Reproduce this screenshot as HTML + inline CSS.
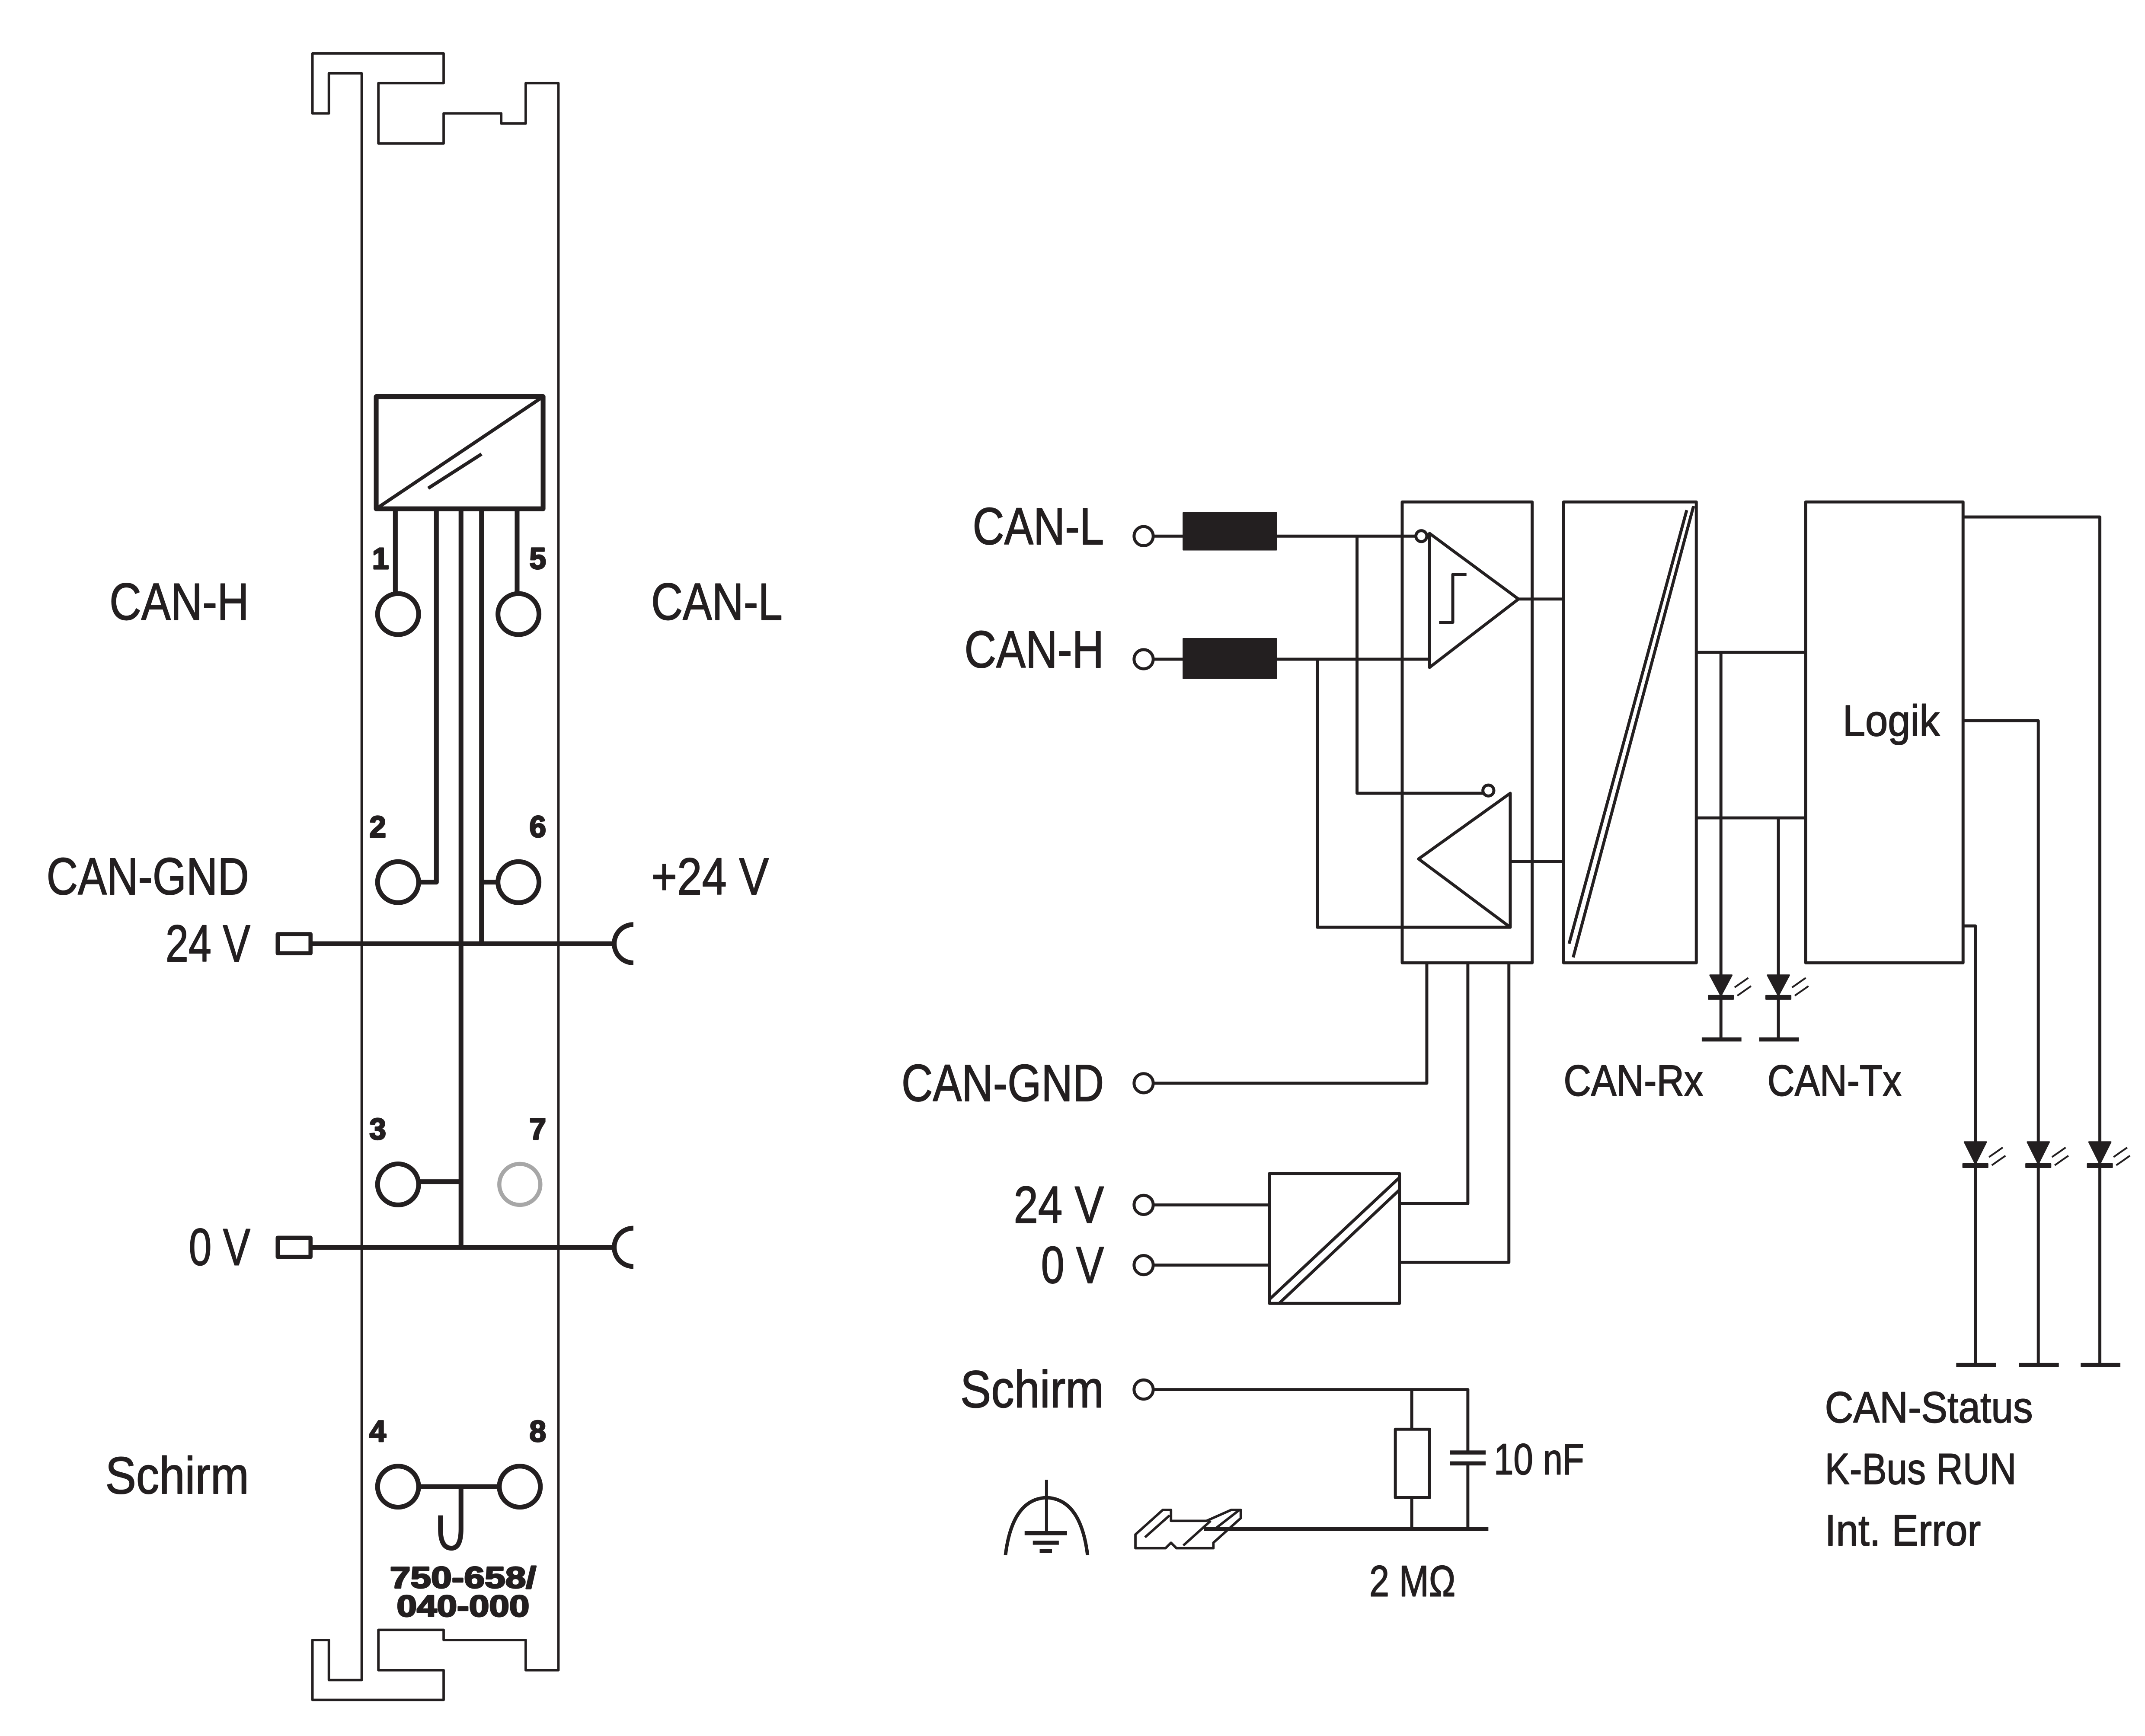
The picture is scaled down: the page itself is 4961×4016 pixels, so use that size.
<!DOCTYPE html>
<html><head><meta charset="utf-8"><style>
html,body{margin:0;padding:0;background:#fff;}
svg{display:block;}
text{font-family:"Liberation Sans Narrow","Liberation Sans",sans-serif;fill:#231f20;}
.m{stroke:#231f20;stroke-width:0.6;}
</style></head><body>
<svg width="4961" height="4016" viewBox="0 0 1568 1269.3" xmlns="http://www.w3.org/2000/svg">
<g fill="none" stroke="#231f20" stroke-linejoin="round">
<path stroke-width="1.8" d="M264.4,1228.4 V53.6 H240.4 V82.9 H228.4 V39.1 H324.3 V60.8 H276.6 V104.9 H324.3 V82.9 H366.4 V90.3 H384.3 V60.8 H408.2 V1221.2 H384.3 V1199.1 H324.3 V1191.7 H276.6 V1221.2 H324.3 V1242.9 H228.4 V1199.1 H240.4 V1228.4 Z"/>
<rect x="275" y="290" width="122" height="82" stroke-width="3.5"/>
<line x1="275" y1="372" x2="397" y2="290" stroke-width="2.5"/>
<line x1="313" y1="357" x2="352" y2="332" stroke-width="2.5"/>
<g stroke-width="3.5">
<line x1="289" y1="372" x2="289" y2="434"/>
<line x1="378" y1="372" x2="378" y2="434"/>
<polyline points="319,372 319,645 306,645"/>
<polyline points="337,372 337,912"/>
<polyline points="352,372 352,690"/>
<line x1="352" y1="645" x2="364" y2="645"/>
<line x1="306" y1="864" x2="337" y2="864"/>
<circle cx="291" cy="449" r="15"/>
<circle cx="379" cy="449" r="15"/>
<circle cx="291" cy="645" r="15"/>
<circle cx="379" cy="645" r="15"/>
<circle cx="291" cy="866" r="15"/>
<circle cx="291" cy="1087" r="15"/>
<circle cx="380" cy="1087" r="15"/>
<line x1="306" y1="1087" x2="365" y2="1087"/>
<path d="M337,1087 V1118 Q337,1132 330,1132 Q322,1132 322,1118 V1108"/>
<line x1="227" y1="690" x2="448" y2="690"/>
<line x1="227" y1="912" x2="448" y2="912"/>
<rect x="203" y="683" width="24" height="14" stroke-width="3"/>
<rect x="203" y="905" width="24" height="14" stroke-width="3"/>
<path d="M463,676 A14,14 0 0 0 463,704"/>
<path d="M463,898 A14,14 0 0 0 463,926"/>
</g>
<circle cx="380" cy="866" r="15" stroke="#a7a7a7" stroke-width="3"/>

<g stroke-width="2.2">
<rect x="1025" y="367" width="95" height="337"/>
<rect x="1143" y="367" width="97" height="337"/>
<rect x="1320" y="367" width="115" height="337"/>
<line x1="1150" y1="700" x2="1238" y2="370"/>
<line x1="1147" y1="690" x2="1233" y2="373"/>
<polygon points="1045,390 1045,488 1110,438"/>
<polyline points="1052,455 1062,455 1062,420 1072,420"/>
<polygon points="1104,580 1104,678 1037,628"/>
<circle cx="1039" cy="392" r="4"/>
<circle cx="1088" cy="578" r="4"/>
<line x1="844" y1="392" x2="865" y2="392"/>
<line x1="933" y1="392" x2="1035" y2="392"/>
<line x1="844" y1="482" x2="865" y2="482"/>
<line x1="933" y1="482" x2="1045" y2="482"/>
<polyline points="992,392 992,580 1084,580"/>
<polyline points="963,482 963,678 1104,678"/>
<line x1="1110" y1="438" x2="1143" y2="438"/>
<line x1="1104" y1="630" x2="1143" y2="630"/>
<line x1="1240" y1="477" x2="1320" y2="477"/>
<line x1="1240" y1="598" x2="1320" y2="598"/>
<line x1="1258" y1="477" x2="1258" y2="760"/>
<line x1="1300" y1="598" x2="1300" y2="760"/>
<line x1="1244" y1="760" x2="1273" y2="760" stroke-width="3"/>
<line x1="1286" y1="760" x2="1315" y2="760" stroke-width="3"/>
<polyline points="1435,378 1535,378 1535,998"/>
<polyline points="1435,527 1490,527 1490,998"/>
<polyline points="1435,677 1444,677 1444,998"/>
<line x1="1430" y1="998" x2="1459" y2="998" stroke-width="3"/>
<line x1="1476" y1="998" x2="1505" y2="998" stroke-width="3"/>
<line x1="1521" y1="998" x2="1550" y2="998" stroke-width="3"/>
<polyline points="844,792 1043,792 1043,704"/>
<polyline points="1073,704 1073,880 1023,880"/>
<polyline points="1103,704 1103,923 1023,923"/>
<rect x="928" y="858" width="95" height="95"/>
<line x1="928" y1="950" x2="1023" y2="861"/>
<line x1="935" y1="953" x2="1023" y2="870"/>
<line x1="844" y1="881" x2="928" y2="881"/>
<line x1="844" y1="925" x2="928" y2="925"/>
<polyline points="844,1016 1073,1016 1073,1062"/>
<line x1="1073" y1="1070" x2="1073" y2="1118"/>
<line x1="1032" y1="1016" x2="1032" y2="1045"/>
<rect x="1020" y="1045" width="25" height="50"/>
<line x1="1032" y1="1095" x2="1032" y2="1118"/>
<line x1="1060" y1="1062" x2="1086" y2="1062" stroke-width="3"/>
<line x1="1060" y1="1070" x2="1086" y2="1070" stroke-width="3"/>
<line x1="880" y1="1118" x2="1088" y2="1118" stroke-width="3"/>
<circle cx="836" cy="392" r="7"/>
<circle cx="836" cy="482" r="7"/>
<circle cx="836" cy="792" r="7"/>
<circle cx="836" cy="881" r="7"/>
<circle cx="836" cy="925" r="7"/>
<circle cx="836" cy="1016" r="7"/>
<path d="M735,1137 Q740,1096 765,1095 Q790,1096 795,1137" stroke-width="2.5"/>
<line x1="765" y1="1082" x2="765" y2="1120"/>
<line x1="749" y1="1121" x2="780" y2="1121" stroke-width="3"/>
<line x1="755" y1="1128" x2="774" y2="1128" stroke-width="3"/>
<line x1="760" y1="1134" x2="769" y2="1134" stroke-width="3"/>
<path stroke-width="1.8" d="M830,1122 L850,1104 H856 V1112 H882 L900,1104 H907 V1110 L887,1128 V1132 H860 L856,1128 L852,1132 H830 Z M837,1124 L855,1108 M885,1112 L865,1130 M888,1118 L906,1104"/>
</g>
<g fill="#231f20">
<rect x="865" y="375" width="68" height="27"/>
<rect x="865" y="467" width="68" height="29"/>
<polygon points="1250,713 1266,713 1258,728"/><rect x="1249" y="728" width="18" height="2.5"/>
<polygon points="1292,713 1308,713 1300,728"/><rect x="1291" y="728" width="18" height="2.5"/>
<polygon points="1436,835 1452,835 1444,851"/><rect x="1435" y="851" width="18" height="2.5"/>
<polygon points="1482,835 1498,835 1490,851"/><rect x="1481" y="851" width="18" height="2.5"/>
<polygon points="1527,835 1543,835 1535,851"/><rect x="1526" y="851" width="18" height="2.5"/>
</g>
<g stroke="#231f20" stroke-width="1.3">
<line x1="1268" y1="722" x2="1278" y2="715"/><line x1="1270" y1="728" x2="1280" y2="721"/>
<line x1="1310" y1="722" x2="1320" y2="715"/><line x1="1312" y1="728" x2="1322" y2="721"/>
<line x1="1454" y1="846" x2="1464" y2="839"/><line x1="1456" y1="852" x2="1466" y2="845"/>
<line x1="1500" y1="846" x2="1510" y2="839"/><line x1="1502" y1="852" x2="1512" y2="845"/>
<line x1="1545" y1="846" x2="1555" y2="839"/><line x1="1547" y1="852" x2="1557" y2="845"/>
</g>

<g font-size="38" class="m" lengthAdjust="spacingAndGlyphs">
<text x="80" y="453" textLength="102" lengthAdjust="spacingAndGlyphs">CAN-H</text>
<text x="476" y="453" textLength="96" lengthAdjust="spacingAndGlyphs">CAN-L</text>
<text x="34" y="654" textLength="148" lengthAdjust="spacingAndGlyphs">CAN-GND</text>
<text x="476" y="654" textLength="86" lengthAdjust="spacingAndGlyphs">+24 V</text>
<text x="121" y="703" textLength="62" lengthAdjust="spacingAndGlyphs">24 V</text>
<text x="138" y="925" textLength="45" lengthAdjust="spacingAndGlyphs">0 V</text>
<text x="77" y="1092" textLength="105" lengthAdjust="spacingAndGlyphs">Schirm</text>
<text x="711" y="398" textLength="96" lengthAdjust="spacingAndGlyphs">CAN-L</text>
<text x="705" y="488" textLength="102" lengthAdjust="spacingAndGlyphs">CAN-H</text>
<text x="659" y="805" textLength="148" lengthAdjust="spacingAndGlyphs">CAN-GND</text>
<text x="741" y="894" textLength="66" lengthAdjust="spacingAndGlyphs">24 V</text>
<text x="761" y="938" textLength="46" lengthAdjust="spacingAndGlyphs">0 V</text>
<text x="702" y="1029" textLength="105" lengthAdjust="spacingAndGlyphs">Schirm</text>
</g>
<g font-size="32" class="m">
<text x="1347" y="538" textLength="71" lengthAdjust="spacingAndGlyphs">Logik</text>
<text x="1143" y="801" textLength="102" lengthAdjust="spacingAndGlyphs">CAN-Rx</text>
<text x="1292" y="801" textLength="98" lengthAdjust="spacingAndGlyphs">CAN-Tx</text>
<text x="1334" y="1040" textLength="152" lengthAdjust="spacingAndGlyphs">CAN-Status</text>
<text x="1334" y="1085" textLength="140" lengthAdjust="spacingAndGlyphs">K-Bus RUN</text>
<text x="1334" y="1130" textLength="114" lengthAdjust="spacingAndGlyphs">Int. Error</text>
<text x="1092" y="1078" textLength="66" lengthAdjust="spacingAndGlyphs">10 nF</text>
<text x="1001" y="1167" textLength="63" lengthAdjust="spacingAndGlyphs">2 MΩ</text>
</g>
<g font-size="22" font-weight="bold">
<text x="272" y="416">1</text><text x="387" y="416">5</text>
<text x="270" y="612">2</text><text x="387" y="612">6</text>
<text x="270" y="833">3</text><text x="387" y="833">7</text>
<text x="270" y="1054">4</text><text x="387" y="1054">8</text>
<text x="285" y="1161" textLength="107" lengthAdjust="spacingAndGlyphs">750-658/</text>
<text x="290" y="1182" textLength="97" lengthAdjust="spacingAndGlyphs">040-000</text>
</g>
</svg>
</body></html>
